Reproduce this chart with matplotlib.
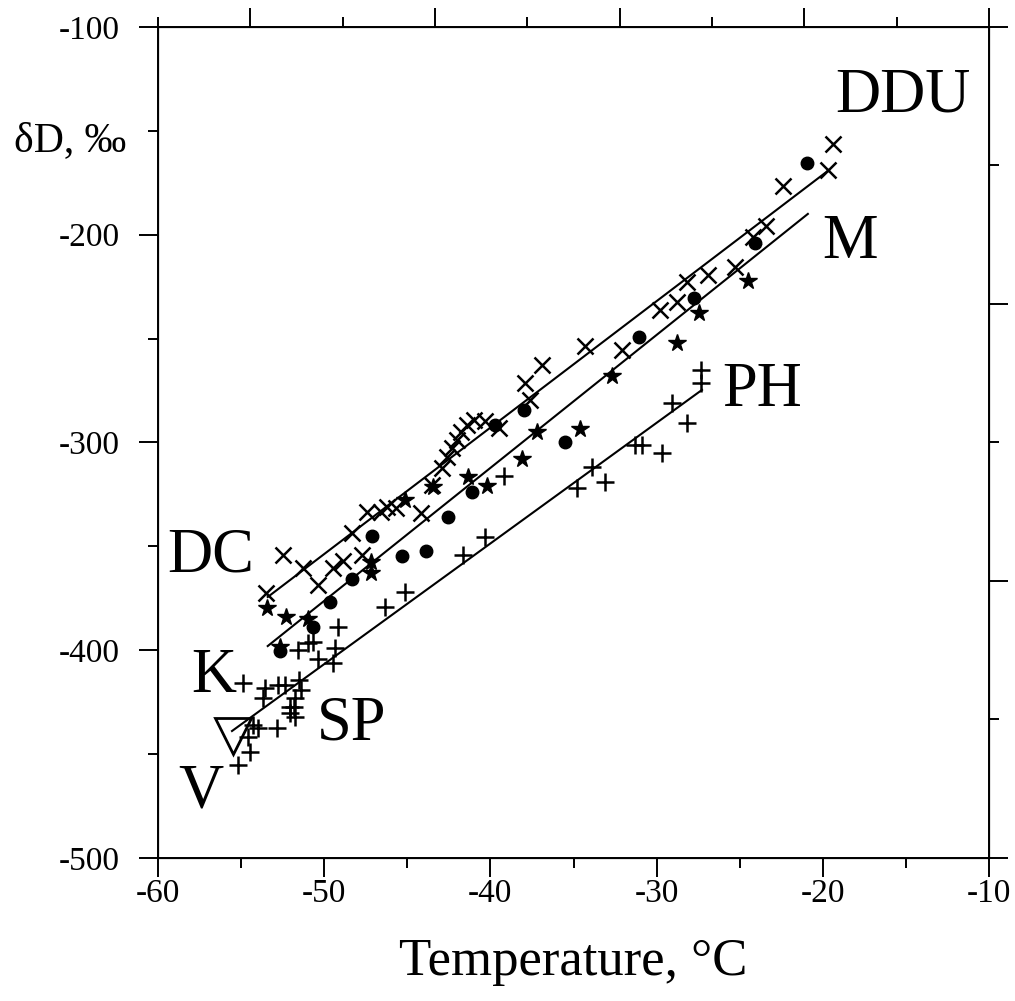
import matplotlib
matplotlib.use('Agg')
import matplotlib.pyplot as plt
import matplotlib.transforms as mtransforms
import numpy as np

plt.rcParams['font.family'] = ['Liberation Serif', 'DejaVu Serif']
plt.rcParams['axes.unicode_minus'] = False

# crosses (DDU - DC traverse)
cross_t = [-19.4, -19.7, -22.4, -23.4, -24.2, -25.3, -26.9, -28.2, -28.8, -29.8,
           -32.1, -34.3, -36.9, -37.9, -37.6, -39.5, -40.3, -41.0, -41.4, -41.8,
           -42.0, -42.3, -42.6, -42.9, -43.5, -44.2, -45.7, -46.2, -46.6, -47.4,
           -48.3, -47.7, -48.9, -49.5, -51.3, -52.5, -50.4, -53.5]
cross_d = [-156.3, -168.8, -176.5, -195.8, -201.1, -215.5, -219.4, -222.7, -232.4, -236.2,
           -255.5, -253.6, -262.7, -271.4, -279.5, -293.0, -289.7, -289.2, -291.6, -294.9,
           -298.8, -302.6, -307.0, -312.3, -320.5, -333.9, -331.5, -331.0, -333.4, -333.4,
           -343.6, -354.2, -357.0, -360.4, -360.4, -354.2, -368.6, -372.4]

# filled circles
dot_t = [-20.95, -24.1, -27.75, -31.05, -35.5, -38.0, -39.7, -41.1, -42.55, -43.9,
         -45.3, -47.1, -48.3, -49.65, -50.7, -52.65]
dot_d = [-165.5, -204.0, -230.4, -249.2, -299.8, -284.4, -291.6, -323.8, -335.9, -352.2,
         -354.6, -345.0, -365.7, -376.8, -388.8, -400.4]

# stars
star_t = [-24.5, -27.45, -28.8, -32.7, -34.6, -37.2, -38.1, -40.2, -41.35, -43.45,
          -45.15, -47.2, -47.2, -51.0, -52.3, -53.45, -52.65]
star_d = [-222.3, -237.7, -252.1, -268.0, -293.5, -294.9, -307.9, -320.9, -316.6, -321.4,
          -327.7, -357.5, -362.8, -384.9, -384.0, -379.7, -398.4]

# pluses (SP - PH)
plus_t = [-27.3, -27.3, -29.1, -28.2, -31.3, -30.9, -29.7, -33.9, -33.1, -34.8,
          -39.2, -40.3, -41.65, -45.15, -46.35, -49.2, -51.6, -51.0, -50.7, -50.4,
          -49.5, -49.35, -54.9, -53.55, -52.8, -52.35, -51.5, -51.4, -53.7, -51.75,
          -52.05, -51.8, -52.05, -51.75, -54.3, -54.0, -52.85, -54.6, -54.45, -55.2]
plus_d = [-265.1, -271.4, -281.0, -290.6, -301.2, -301.2, -305.1, -311.8, -319.0, -321.9,
          -316.1, -345.5, -354.2, -372.0, -379.2, -388.8, -399.9, -396.5, -396.0, -404.2,
          -406.1, -398.9, -415.8, -418.2, -416.7, -416.7, -414.3, -419.1, -423.0, -423.0,
          -427.3, -427.3, -430.2, -432.1, -436.0, -437.4, -437.4, -441.8, -449.0, -455.2]

# Vostok
vostok_t = [-55.5]
vostok_d = [-441.3]

# regression lines (end points)
fit_top_t = [-53.4, -19.7]
fit_top_d = [-374.4, -169.3]
fit_mid_t = [-53.4, -20.9]
fit_mid_d = [-398.0, -190.0]
fit_low_t = [-55.55, -27.27]
fit_low_d = [-438.9, -274.7]

# station labels
station_names = ['DDU', 'M', 'PH', 'DC', 'K', 'SP', 'V']
station_t = [-19.27, -20.05, -26.06, -59.46, -58.0, -50.43, -58.8]
station_d = [-140.9, -211.2, -282.4, -361.9, -420.1, -443.2, -475.9]

fig = plt.figure(figsize=(10.15, 10.01), dpi=100)
ax = fig.add_axes([0.1557, 0.1429, 0.8187, 0.8302])

lw = 1.5
ax.plot(fit_top_t, fit_top_d, color='black', lw=lw)
ax.plot(fit_mid_t, fit_mid_d, color='black', lw=lw)
ax.plot(fit_low_t, fit_low_d, color='black', lw=lw)

ax.plot(cross_t, cross_d, 'x', color='black', ms=12, mew=1.8, ls='none')
ax.plot(dot_t, dot_d, 'o', color='black', ms=9, ls='none')
ax.plot(star_t, star_d, '*', color='black', ms=13, ls='none')
ax.plot(plus_t, plus_d, '+', color='black', ms=13, mew=1.8, ls='none')
ax.plot(vostok_t, vostok_d, 'v', mfc='none', mec='black', ms=26, mew=2, ls='none')

for name, t, d in zip(station_names, station_t, station_d):
    ax.text(t, d, name, fontsize=45, ha='left', va='baseline')

ax.set_xlim(-60, -10)
ax.set_ylim(-500, -100)
ax.set_xticks(np.arange(-60, -9, 10))
ax.set_xticks(np.arange(-55, -10, 10), minor=True)
ax.set_yticks(np.arange(-500, -99, 100))
ax.set_yticks(np.arange(-450, -100, 100), minor=True)
ax.tick_params(which='major', direction='out', length=13.5, width=1.4, labelsize=24, pad=1)
ax.tick_params(which='minor', direction='out', length=7, width=1.4)
ax.tick_params(axis='y', pad=14)
for s in ax.spines.values():
    s.set_linewidth(1.4)

ax.set_xlabel('Temperature, °C', fontsize=38, labelpad=21)

trans = mtransforms.blended_transform_factory(ax.transAxes, ax.transData)
ax.text(-0.038, -155, 'δD, ‰', fontsize=30, ha='right', va='center', transform=trans)

# unlabeled top and right scales
top = ax.twiny()
top.set_xlim(0, 9)
top.set_xticks([1, 3, 5, 7, 9])
top.set_xticks([0, 2, 4, 6, 8], minor=True)
top.tick_params(which='major', direction='out', length=13.5, width=1.4, labeltop=False)
top.tick_params(which='minor', direction='out', length=7, width=1.4)

right = ax.twinx()
right.set_ylim(6, 0)
right.set_yticks([0, 2, 4, 6])
right.set_yticks([1, 3, 5], minor=True)
right.tick_params(which='major', direction='out', length=13.5, width=1.4, labelright=False)
right.tick_params(which='minor', direction='out', length=7, width=1.4)

fig.savefig('out.png', dpi=100)
